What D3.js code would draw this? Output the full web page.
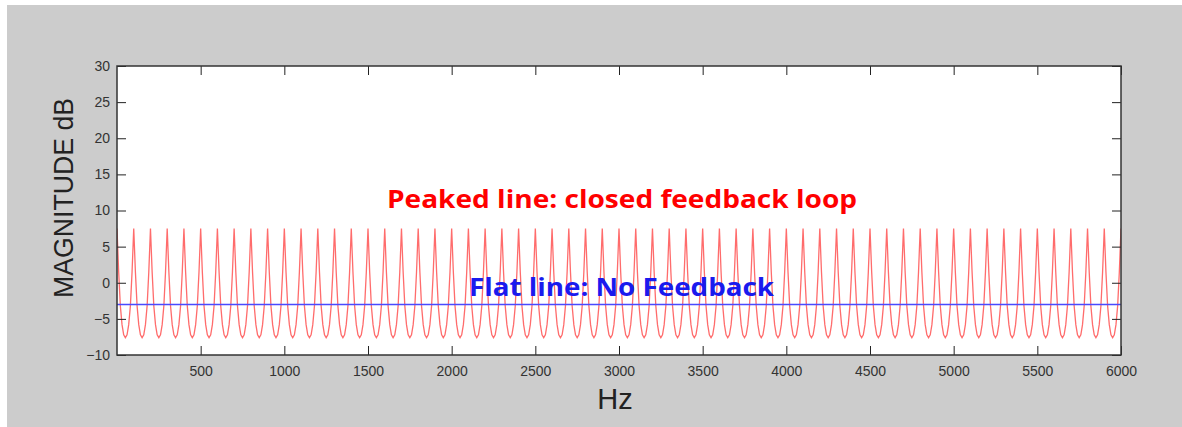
<!DOCTYPE html>
<html>
<head>
<meta charset="utf-8">
<script src="https://cdn.jsdelivr.net/npm/d3@7"></script>
<style>
  html, body { margin: 0; padding: 0; background: #fff; }
  svg { display: block; }
  .tick text { font-family: "Liberation Sans", Arial, sans-serif; font-size: 14px; fill: #333; }
  .tick line { stroke: #222; }
</style>
</head>
<body>
<svg id="chart" width="1182" height="427"></svg>
<script>
/* Comb filter response: closed feedback loop vs. no feedback. */

const freqDomain = [0, 6000];
const magDomain = [-10, 30];
const xTicks = [500, 1000, 1500, 2000, 2500, 3000, 3500, 4000, 4500, 5000, 5500, 6000];
const yTicks = [-10, -5, 0, 5, 10, 15, 20, 25, 30];

// magnitude (dB), one value every 10 Hz from 0 to 6000 Hz
const freqStep = 10;
const peakedDb = [
  7.5, 1.5, -3.2, -5.8, -7.2, -7.6, -7.2, -5.8, -3.2, 1.5,
  7.5, 1.5, -3.2, -5.8, -7.2, -7.6, -7.2, -5.8, -3.2, 1.5,
  7.5, 1.5, -3.2, -5.8, -7.2, -7.6, -7.2, -5.8, -3.2, 1.5,
  7.5, 1.5, -3.2, -5.8, -7.2, -7.6, -7.2, -5.8, -3.2, 1.5,
  7.5, 1.5, -3.2, -5.8, -7.2, -7.6, -7.2, -5.8, -3.2, 1.5,
  7.5, 1.5, -3.2, -5.8, -7.2, -7.6, -7.2, -5.8, -3.2, 1.5,
  7.5, 1.5, -3.2, -5.8, -7.2, -7.6, -7.2, -5.8, -3.2, 1.5,
  7.5, 1.5, -3.2, -5.8, -7.2, -7.6, -7.2, -5.8, -3.2, 1.5,
  7.5, 1.5, -3.2, -5.8, -7.2, -7.6, -7.2, -5.8, -3.2, 1.5,
  7.5, 1.5, -3.2, -5.8, -7.2, -7.6, -7.2, -5.8, -3.2, 1.5,
  7.5, 1.5, -3.2, -5.8, -7.2, -7.6, -7.2, -5.8, -3.2, 1.5,
  7.5, 1.5, -3.2, -5.8, -7.2, -7.6, -7.2, -5.8, -3.2, 1.5,
  7.5, 1.5, -3.2, -5.8, -7.2, -7.6, -7.2, -5.8, -3.2, 1.5,
  7.5, 1.5, -3.2, -5.8, -7.2, -7.6, -7.2, -5.8, -3.2, 1.5,
  7.5, 1.5, -3.2, -5.8, -7.2, -7.6, -7.2, -5.8, -3.2, 1.5,
  7.5, 1.5, -3.2, -5.8, -7.2, -7.6, -7.2, -5.8, -3.2, 1.5,
  7.5, 1.5, -3.2, -5.8, -7.2, -7.6, -7.2, -5.8, -3.2, 1.5,
  7.5, 1.5, -3.2, -5.8, -7.2, -7.6, -7.2, -5.8, -3.2, 1.5,
  7.5, 1.5, -3.2, -5.8, -7.2, -7.6, -7.2, -5.8, -3.2, 1.5,
  7.5, 1.5, -3.2, -5.8, -7.2, -7.6, -7.2, -5.8, -3.2, 1.5,
  7.5, 1.5, -3.2, -5.8, -7.2, -7.6, -7.2, -5.8, -3.2, 1.5,
  7.5, 1.5, -3.2, -5.8, -7.2, -7.6, -7.2, -5.8, -3.2, 1.5,
  7.5, 1.5, -3.2, -5.8, -7.2, -7.6, -7.2, -5.8, -3.2, 1.5,
  7.5, 1.5, -3.2, -5.8, -7.2, -7.6, -7.2, -5.8, -3.2, 1.5,
  7.5, 1.5, -3.2, -5.8, -7.2, -7.6, -7.2, -5.8, -3.2, 1.5,
  7.5, 1.5, -3.2, -5.8, -7.2, -7.6, -7.2, -5.8, -3.2, 1.5,
  7.5, 1.5, -3.2, -5.8, -7.2, -7.6, -7.2, -5.8, -3.2, 1.5,
  7.5, 1.5, -3.2, -5.8, -7.2, -7.6, -7.2, -5.8, -3.2, 1.5,
  7.5, 1.5, -3.2, -5.8, -7.2, -7.6, -7.2, -5.8, -3.2, 1.5,
  7.5, 1.5, -3.2, -5.8, -7.2, -7.6, -7.2, -5.8, -3.2, 1.5,
  7.5, 1.5, -3.2, -5.8, -7.2, -7.6, -7.2, -5.8, -3.2, 1.5,
  7.5, 1.5, -3.2, -5.8, -7.2, -7.6, -7.2, -5.8, -3.2, 1.5,
  7.5, 1.5, -3.2, -5.8, -7.2, -7.6, -7.2, -5.8, -3.2, 1.5,
  7.5, 1.5, -3.2, -5.8, -7.2, -7.6, -7.2, -5.8, -3.2, 1.5,
  7.5, 1.5, -3.2, -5.8, -7.2, -7.6, -7.2, -5.8, -3.2, 1.5,
  7.5, 1.5, -3.2, -5.8, -7.2, -7.6, -7.2, -5.8, -3.2, 1.5,
  7.5, 1.5, -3.2, -5.8, -7.2, -7.6, -7.2, -5.8, -3.2, 1.5,
  7.5, 1.5, -3.2, -5.8, -7.2, -7.6, -7.2, -5.8, -3.2, 1.5,
  7.5, 1.5, -3.2, -5.8, -7.2, -7.6, -7.2, -5.8, -3.2, 1.5,
  7.5, 1.5, -3.2, -5.8, -7.2, -7.6, -7.2, -5.8, -3.2, 1.5,
  7.5, 1.5, -3.2, -5.8, -7.2, -7.6, -7.2, -5.8, -3.2, 1.5,
  7.5, 1.5, -3.2, -5.8, -7.2, -7.6, -7.2, -5.8, -3.2, 1.5,
  7.5, 1.5, -3.2, -5.8, -7.2, -7.6, -7.2, -5.8, -3.2, 1.5,
  7.5, 1.5, -3.2, -5.8, -7.2, -7.6, -7.2, -5.8, -3.2, 1.5,
  7.5, 1.5, -3.2, -5.8, -7.2, -7.6, -7.2, -5.8, -3.2, 1.5,
  7.5, 1.5, -3.2, -5.8, -7.2, -7.6, -7.2, -5.8, -3.2, 1.5,
  7.5, 1.5, -3.2, -5.8, -7.2, -7.6, -7.2, -5.8, -3.2, 1.5,
  7.5, 1.5, -3.2, -5.8, -7.2, -7.6, -7.2, -5.8, -3.2, 1.5,
  7.5, 1.5, -3.2, -5.8, -7.2, -7.6, -7.2, -5.8, -3.2, 1.5,
  7.5, 1.5, -3.2, -5.8, -7.2, -7.6, -7.2, -5.8, -3.2, 1.5,
  7.5, 1.5, -3.2, -5.8, -7.2, -7.6, -7.2, -5.8, -3.2, 1.5,
  7.5, 1.5, -3.2, -5.8, -7.2, -7.6, -7.2, -5.8, -3.2, 1.5,
  7.5, 1.5, -3.2, -5.8, -7.2, -7.6, -7.2, -5.8, -3.2, 1.5,
  7.5, 1.5, -3.2, -5.8, -7.2, -7.6, -7.2, -5.8, -3.2, 1.5,
  7.5, 1.5, -3.2, -5.8, -7.2, -7.6, -7.2, -5.8, -3.2, 1.5,
  7.5, 1.5, -3.2, -5.8, -7.2, -7.6, -7.2, -5.8, -3.2, 1.5,
  7.5, 1.5, -3.2, -5.8, -7.2, -7.6, -7.2, -5.8, -3.2, 1.5,
  7.5, 1.5, -3.2, -5.8, -7.2, -7.6, -7.2, -5.8, -3.2, 1.5,
  7.5, 1.5, -3.2, -5.8, -7.2, -7.6, -7.2, -5.8, -3.2, 1.5,
  7.5, 1.5, -3.2, -5.8, -7.2, -7.6, -7.2, -5.8, -3.2, 1.5,
  7.5
];
const flatDb = [-3, -3];
const flatHz = [0, 6000];

const svg = d3.select("#chart");
const W = +svg.attr("width"), H = +svg.attr("height");
const m = { top: 66, right: 61, bottom: 72, left: 117 };

// grey figure background
svg.append("rect").attr("x", 7).attr("y", 5).attr("width", W - 7).attr("height", H - 5).attr("fill", "#cccccc");

const x = d3.scaleLinear().domain(freqDomain).range([m.left, W - m.right]);
const y = d3.scaleLinear().domain(magDomain).range([H - m.bottom, m.top]);

svg.append("rect")
  .attr("x", x(freqDomain[0])).attr("y", y(magDomain[1]))
  .attr("width", x(freqDomain[1]) - x(freqDomain[0]))
  .attr("height", y(magDomain[0]) - y(magDomain[1]))
  .attr("fill", "#fff");

const plot = svg.append("g");
plot.append("defs").append("clipPath").attr("id", "clip")
  .append("rect")
  .attr("x", x(freqDomain[0])).attr("y", y(magDomain[1]))
  .attr("width", x(freqDomain[1]) - x(freqDomain[0]))
  .attr("height", y(magDomain[0]) - y(magDomain[1]));

const peaked = peakedDb.map((v, i) => ({ f: i * freqStep, v }));
const line = d3.line().x((d) => x(d.f)).y((d) => y(d.v));

plot.append("path")
  .datum(peaked)
  .attr("clip-path", "url(#clip)")
  .attr("fill", "none")
  .attr("stroke", "#ff3b3b")
  .attr("stroke-opacity", 0.75)
  .attr("stroke-width", 1.3)
  .attr("d", line);

plot.append("path")
  .datum(flatHz.map((f, i) => ({ f, v: flatDb[i] })))
  .attr("fill", "none")
  .attr("stroke", "#4a4aff")
  .attr("stroke-width", 1.5)
  .attr("d", line);

/* ---------- Axes (MATLAB-style box, ticks inward) ---------- */

const TICK = 9;
const ax = (g) => g.call((s) => s.select(".domain").remove());

svg.append("g")
  .attr("transform", `translate(0,${y(magDomain[0])})`)
  .call(d3.axisBottom(x).tickValues(xTicks).tickFormat(d3.format("d"))
    .tickSizeInner(-TICK).tickSizeOuter(0).tickPadding(11))
  .call(ax);
svg.append("g")
  .attr("transform", `translate(0,${y(magDomain[1])})`)
  .call(d3.axisTop(x).tickValues(xTicks).tickSizeInner(-TICK).tickSizeOuter(0).tickFormat(""))
  .call(ax);
svg.append("g")
  .attr("transform", `translate(${x(freqDomain[0])},0)`)
  .call(d3.axisLeft(y).tickValues(yTicks).tickFormat(d3.format("d"))
    .tickSizeInner(-TICK).tickSizeOuter(0).tickPadding(7))
  .call(ax);
svg.append("g")
  .attr("transform", `translate(${x(freqDomain[1])},0)`)
  .call(d3.axisRight(y).tickValues(yTicks).tickSizeInner(-TICK).tickSizeOuter(0).tickFormat(""))
  .call(ax);

svg.append("rect")
  .attr("x", x(freqDomain[0])).attr("y", y(magDomain[1]))
  .attr("width", x(freqDomain[1]) - x(freqDomain[0]))
  .attr("height", y(magDomain[0]) - y(magDomain[1]))
  .attr("fill", "none")
  .attr("stroke", "#333")
  .attr("stroke-width", 1.5);

/* ---------- Labels ---------- */

svg.append("text")
  .attr("x", 615).attr("y", 409)
  .attr("text-anchor", "middle")
  .attr("font-family", "Liberation Sans, Arial, sans-serif")
  .attr("font-size", 29)
  .attr("fill", "#222")
  .text("Hz");

svg.append("text")
  .attr("transform", "translate(73,198) rotate(-90)")
  .attr("text-anchor", "middle")
  .attr("font-family", "Liberation Sans, Arial, sans-serif")
  .attr("font-size", 27)
  .attr("fill", "#222")
  .attr("textLength", 200)
  .attr("lengthAdjust", "spacingAndGlyphs")
  .text("MAGNITUDE dB");

svg.append("text")
  .attr("x", 387).attr("y", 208)
  .attr("font-family", "Open Sans, sans-serif")
  .attr("font-weight", "bold")
  .attr("font-size", 25)
  .attr("fill", "#ff0000")
  .attr("textLength", 470)
  .attr("lengthAdjust", "spacingAndGlyphs")
  .text("Peaked line: closed feedback loop");

svg.append("text")
  .attr("x", 469).attr("y", 296)
  .attr("font-family", "Open Sans, sans-serif")
  .attr("font-weight", "bold")
  .attr("font-size", 25)
  .attr("fill", "#1a1aee")
  .attr("textLength", 305)
  .attr("lengthAdjust", "spacingAndGlyphs")
  .text("Flat line: No Feedback");
</script>
</body>
</html>
